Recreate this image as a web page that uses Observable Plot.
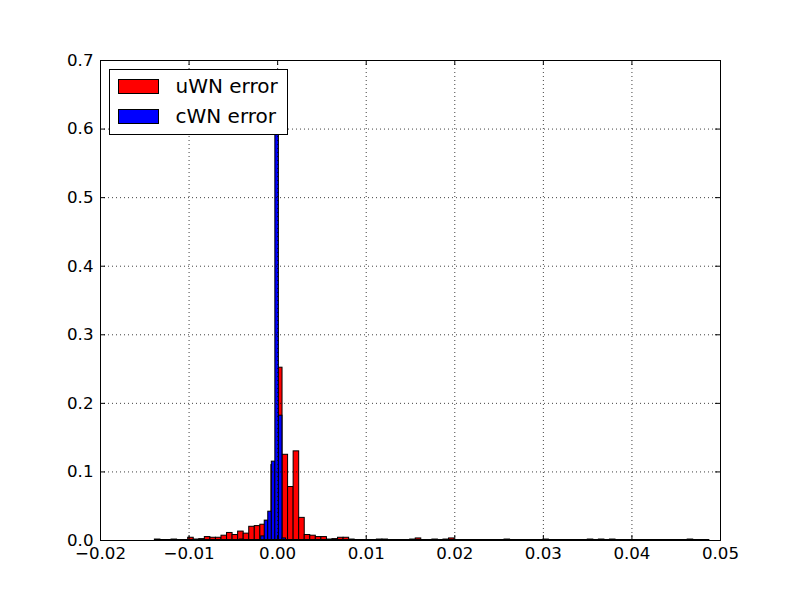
<!DOCTYPE html>
<html>
<head>
<meta charset="utf-8">
<script src="https://cdn.jsdelivr.net/npm/d3@7"></script>
<script src="https://cdn.jsdelivr.net/npm/@observablehq/plot@0.6"></script>
<style>
  html, body { margin: 0; padding: 0; background: #fff; }
  #chart { width: 800px; height: 600px; }
</style>
</head>
<body>
<div id="chart"></div>
<script>
// ---- data ----
const seriesNames = ["uWN error", "cWN error"];
const seriesColors = ["#ff0000", "#0000ff"];

// uWN error: 100 bins
const redStart = -0.01386;
const redWidth = 0.0006266;
const redHeights = [
  0.0014, 0, 0, 0.0014, 0, 0, 0.004, 0.0014, 0.002, 0.005,
  0.004, 0.004, 0.007, 0.011, 0.008, 0.013, 0.010, 0.020, 0.021, 0.023,
  0.028, 0.110, 0.252, 0.125, 0.078, 0.130, 0.033, 0.008, 0.007, 0.005,
  0.005, 0.0014, 0.002, 0.004, 0.004, 0.0014, 0, 0, 0, 0,
  0.0014, 0.0014, 0, 0, 0, 0, 0.0014, 0.003, 0, 0,
  0.0014, 0, 0.0014, 0.003, 0, 0, 0, 0, 0, 0,
  0, 0, 0, 0.0014, 0, 0, 0, 0, 0, 0,
  0.0014, 0, 0, 0, 0, 0, 0, 0, 0.0014, 0,
  0.0014, 0, 0.0014, 0, 0, 0, 0, 0, 0, 0,
  0, 0, 0, 0, 0, 0, 0.0014, 0, 0, 0
];

// cWN error: bins around zero
const blueStart = -0.004258;
const blueWidth = 0.0004;
const blueHeights = [0.0014, 0, 0, 0, 0, 0, 0.006, 0.029, 0.042, 0.115, 0.62, 0.182, 0.003];

const xTicks = [-0.02, -0.01, 0.00, 0.01, 0.02, 0.03, 0.04, 0.05];
const yTicks = [0.0, 0.1, 0.2, 0.3, 0.4, 0.5, 0.6, 0.7];

// ---- build bin tables ----
const redBins = redHeights.map((h, i) => ({lo: redStart + i * redWidth, hi: redStart + (i + 1) * redWidth, h}));
const blueBins = blueHeights.map((h, i) => ({lo: blueStart + i * blueWidth, hi: blueStart + (i + 1) * blueWidth, h}));

const W = 800, H = 600;
const mL = 100, mR = 80, mT = 60, mB = 60;
const innerW = W - mL - mR, innerH = H - mT - mB;
const tick = 5;

const svg = Plot.plot({
  width: W,
  height: H,
  marginLeft: mL,
  marginRight: mR,
  marginTop: mT,
  marginBottom: mB,
  style: {fontFamily: "DejaVu Sans", fontSize: "16.67px", color: "#000", background: "#fff", overflow: "visible"},
  x: {domain: [xTicks[0], xTicks[xTicks.length - 1]], ticks: xTicks, tickFormat: d3.format(".2f"), tickSize: 0, tickPadding: 7, label: null},
  y: {domain: [yTicks[0], yTicks[yTicks.length - 1]], ticks: yTicks, tickFormat: d3.format(".1f"), tickSize: 0, tickPadding: 7, label: null},
  marks: [
    Plot.rectY(redBins, {x1: "lo", x2: "hi", y1: 0, y2: "h", fill: seriesColors[0], stroke: "#000", strokeWidth: 1}),
    Plot.rectY(blueBins, {x1: "lo", x2: "hi", y1: 0, y2: "h", fill: seriesColors[1], stroke: "#000", strokeWidth: 1}),
    Plot.ruleY([0], {x1: redStart, x2: redStart + redHeights.length * redWidth, stroke: "#000", strokeWidth: 1, dy: -1}),
    // dotted grid
    Plot.ruleX(xTicks, {x: d => d, stroke: "#000", strokeOpacity: 0.75, strokeWidth: 1, strokeDasharray: "1,3"}),
    Plot.ruleY(yTicks, {y: d => d, stroke: "#000", strokeOpacity: 0.75, strokeWidth: 1, strokeDasharray: "1,3"}),
    // inward ticks on all four sides
    Plot.ruleX(xTicks, {x: d => d, stroke: "#000", insetTop: innerH - tick}),
    Plot.ruleX(xTicks, {x: d => d, stroke: "#000", insetBottom: innerH - tick}),
    Plot.ruleY(yTicks, {y: d => d, stroke: "#000", insetRight: innerW - tick}),
    Plot.ruleY(yTicks, {y: d => d, stroke: "#000", insetLeft: innerW - tick}),
    Plot.frame({stroke: "#000", strokeWidth: 1})
  ]
});

document.getElementById("chart").appendChild(svg);

// ---- legend (upper left, inside axes) ----
const g = d3.select(svg).append("g")
  .attr("transform", "translate(0.5,0.5)")
  .attr("text-anchor", "start");
g.append("rect")
  .attr("x", 109).attr("y", 69).attr("width", 178).attr("height", 65)
  .attr("fill", "#fff").attr("stroke", "#000").attr("stroke-width", 1);
seriesNames.forEach((name, i) => {
  const y0 = 79 + i * 30;
  g.append("rect")
    .attr("x", 118).attr("y", y0).attr("width", 40).attr("height", 14)
    .attr("fill", seriesColors[i]).attr("stroke", "#000").attr("stroke-width", 1);
  g.append("text")
    .attr("x", 175).attr("y", y0 + 13.5)
    .style("text-anchor", "start")
    .style("font-family", "DejaVu Sans")
    .style("font-size", "20px")
    .attr("fill", "#000")
    .text(name);
});
</script>
</body>
</html>
